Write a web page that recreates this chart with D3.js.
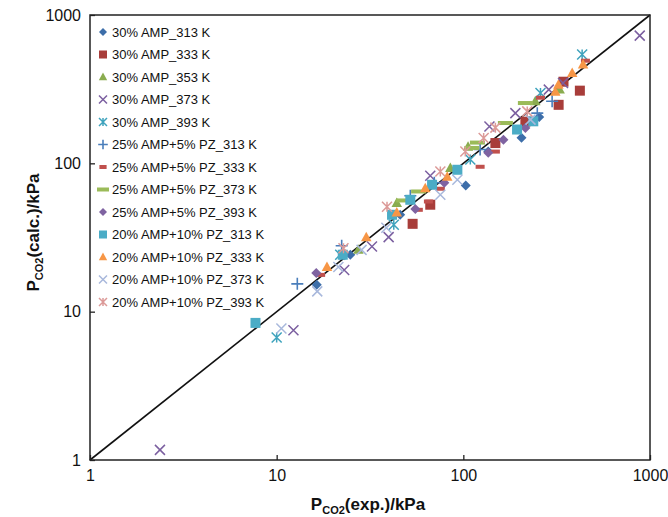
<!DOCTYPE html>
<html>
<head>
<meta charset="utf-8">
<script src="https://cdn.jsdelivr.net/npm/d3@7"></script>
<style>
  body { margin: 0; background: #fff; }
  text { font-family: "Liberation Sans", Arial, sans-serif; }
</style>
</head>
<body>
<div id="chart"></div>
<script>
// series names, in legend order
const seriesNames = [
  "30% AMP_313 K", "30% AMP_333 K", "30% AMP_353 K", "30% AMP_373 K", "30% AMP_393 K",
  "25% AMP+5% PZ_313 K", "25% AMP+5% PZ_333 K", "25% AMP+5% PZ_373 K", "25% AMP+5% PZ_393 K",
  "20% AMP+10% PZ_313 K", "20% AMP+10% PZ_333 K", "20% AMP+10% PZ_373 K", "20% AMP+10% PZ_393 K"
];
const seriesColors = [
  "#3d6ea9", "#a83d3a", "#8aac4f", "#7b5fa0", "#3fa3bd",
  "#4a7ebb", "#c0504d", "#9bbb59", "#7f63a1",
  "#4bacc6", "#f79646", "#a8b8dc", "#dc9a98"
];
const seriesShapes = [
  "diamond", "square", "triangle", "cross", "star",
  "plus", "dash", "longdash", "diamond",
  "square", "triangle", "cross", "star"
];

// [P_CO2 exp, P_CO2 calc] in kPa
const amp30_313 = [[16.4,15.2],[24.8,24.2],[45.9,45],[103,71],[136,120],[205,149],[255,205]];
const amp30_333 = [[53.5,39.1],[66.5,52.6],[148.5,137],[215,191],[324,248],[344,355],[421,309]];
const amp30_353 = [[27.4,26.1],[44,54],[85.2,93],[106,129.5],[243,262],[328,314]];
const amp30_373 = [[2.37,1.17],[12.3,7.5],[23,19.1],[32.4,27.5],[39.8,31.8],[66.5,82.5],[138,177],[190,218],[287,314],[342,348],[881,726]];
const amp30_393 = [[10,6.7],[21.9,24.2],[42.4,38.5],[109,106],[259,298],[433,541]];
const amp25pz5_313 = [[12.9,15.4],[22.3,27.8],[52,60.4],[69.9,74],[123,124],[249,218],[299,262]];
const amp25pz5_333 = [[17.2,17.7],[57.4,48.6],[65,55.3],[75.3,67.4],[123,94.8],[148.5,120],[259,277],[451,492]];
const amp25pz5_373 = [[47.9,56.2],[57.6,64.6],[111,127],[119,138],[168,187],[215,255]];
const amp25pz5_393 = [[16.3,18.2],[55.3,49.2],[79.1,74],[136,118],[164,144],[215,173]];
const amp20pz10_313 = [[7.7,8.4],[22.6,24.2],[41.5,45],[52,56.8],[68,71.7],[92.9,90.5],[194,169],[237,192]];
const amp20pz10_333 = [[18.6,20],[30.2,31.8],[44,46.6],[62.5,68],[82,81.2],[311,304],[323,339],[383,406],[438,463]];
const amp20pz10_373 = [[10.6,7.7],[16.5,13.7],[21.4,20],[28.5,26.1],[38.7,36.8],[75.3,61.4],[92.9,77.5],[229,197]];
const amp20pz10_393 = [[22.8,26.8],[39,51],[75.3,88.2],[102.5,120],[128.5,148],[148.5,174],[220,224]];

const seriesData = [
  amp30_313, amp30_333, amp30_353, amp30_373, amp30_393,
  amp25pz5_313, amp25pz5_333, amp25pz5_373, amp25pz5_393,
  amp20pz10_313, amp20pz10_333, amp20pz10_373, amp20pz10_393
];

const tickValues = [1, 10, 100, 1000];
const parityLine = [1, 1000];

const width = 668, height = 517;
const margin = { top: 15, right: 18, bottom: 57, left: 90 };

const svg = d3.select("#chart").append("svg")
  .attr("width", width)
  .attr("height", height);

const x = d3.scaleLog([1, 1000], [margin.left, width - margin.right]);
const y = d3.scaleLog([1, 1000], [height - margin.bottom, margin.top]);

// draws one marker centred on 0,0
function drawMarker(g, shape, color, s) {
  const h = s / 2;
  if (shape === "diamond") {
    g.append("path").attr("d", `M0,${-h}L${h},0L0,${h}L${-h},0Z`).attr("fill", color);
  } else if (shape === "square") {
    g.append("rect").attr("x", -h).attr("y", -h).attr("width", s).attr("height", s).attr("fill", color);
  } else if (shape === "triangle") {
    g.append("path").attr("d", `M0,${-h * 1.1}L${h * 1.05},${h * 0.8}L${-h * 1.05},${h * 0.8}Z`).attr("fill", color);
  } else if (shape === "cross") {
    g.append("path").attr("d", `M${-h},${-h}L${h},${h}M${-h},${h}L${h},${-h}`)
      .attr("stroke", color).attr("stroke-width", 1.5);
  } else if (shape === "star") {
    g.append("path").attr("d", `M${-h},${-h}L${h},${h}M${-h},${h}L${h},${-h}M0,${-h}L0,${h}`)
      .attr("stroke", color).attr("stroke-width", 1.5);
  } else if (shape === "plus") {
    g.append("path").attr("d", `M${-h * 1.2},0L${h * 1.2},0M0,${-h * 1.2}L0,${h * 1.2}`)
      .attr("stroke", color).attr("stroke-width", 1.6);
  } else if (shape === "dash") {
    g.append("rect").attr("x", -h * 0.9).attr("y", -2).attr("width", s * 0.9).attr("height", 4).attr("fill", color);
  } else if (shape === "longdash") {
    g.append("rect").attr("x", -h * 1.5).attr("y", -2).attr("width", s * 1.5).attr("height", 4).attr("fill", color);
  }
}

// parity line
svg.append("line")
  .attr("x1", x(parityLine[0])).attr("y1", y(parityLine[0]))
  .attr("x2", x(parityLine[1])).attr("y2", y(parityLine[1]))
  .attr("stroke", "#111").attr("stroke-width", 1.6);

// points
seriesData.forEach((data, i) => {
  svg.append("g").selectAll("g")
    .data(data)
    .join("g")
    .attr("transform", d => `translate(${x(d[0])},${y(d[1])})`)
    .each(function () {
      drawMarker(d3.select(this), seriesShapes[i], seriesColors[i], 10);
    });
});

// axes, ticks inside
svg.append("g")
  .attr("transform", `translate(0,${height - margin.bottom})`)
  .call(d3.axisBottom(x).tickValues(tickValues).tickFormat(d3.format("d")).tickSizeInner(-5).tickSizeOuter(0).tickPadding(10))
  .call(g => g.select(".domain").remove())
  .call(g => g.selectAll(".tick line").attr("stroke", "#222").attr("stroke-width", 1.3))
  .call(g => g.selectAll("text").attr("font-size", 16).attr("fill", "#111").attr("font-family", "Liberation Sans"));

svg.append("g")
  .attr("transform", `translate(${margin.left},0)`)
  .call(d3.axisLeft(y).tickValues(tickValues).tickFormat(d3.format("d")).tickSizeInner(-5).tickSizeOuter(0).tickPadding(9))
  .call(g => g.select(".domain").remove())
  .call(g => g.selectAll(".tick line").attr("stroke", "#222").attr("stroke-width", 1.3))
  .call(g => g.selectAll("text").attr("font-size", 16).attr("fill", "#111").attr("font-family", "Liberation Sans"));

// frame
svg.append("rect")
  .attr("x", margin.left).attr("y", margin.top)
  .attr("width", width - margin.left - margin.right)
  .attr("height", height - margin.top - margin.bottom)
  .attr("fill", "none").attr("stroke", "#222").attr("stroke-width", 1.5);

// axis titles
const xTitle = svg.append("text")
  .attr("x", (margin.left + width - margin.right) / 2 - 2)
  .attr("y", 510)
  .attr("text-anchor", "middle")
  .attr("font-size", 17).attr("font-weight", "bold").attr("fill", "#111");
xTitle.append("tspan").text("P");
xTitle.append("tspan").attr("font-size", 11).attr("dy", 4).text("CO2");
xTitle.append("tspan").attr("dy", -4).text("(exp.)/kPa");

const yTitle = svg.append("text")
  .attr("transform", `translate(39,${(margin.top + height - margin.bottom) / 2 - 5}) rotate(-90)`)
  .attr("text-anchor", "middle")
  .attr("font-size", 17).attr("font-weight", "bold").attr("fill", "#111");
yTitle.append("tspan").text("P");
yTitle.append("tspan").attr("font-size", 11).attr("dy", 4).text("CO2");
yTitle.append("tspan").attr("dy", -4).text("(calc.)/kPa");

// legend
const legend = svg.append("g").attr("transform", "translate(103,32)");
seriesNames.forEach((name, i) => {
  const row = legend.append("g").attr("transform", `translate(0,${i * 22.5})`);
  drawMarker(row, seriesShapes[i], seriesColors[i], 8);
  row.append("text")
    .attr("x", 9).attr("y", 4.5)
    .attr("font-size", 13).attr("fill", "#111")
    .text(name);
});
</script>
</body>
</html>
